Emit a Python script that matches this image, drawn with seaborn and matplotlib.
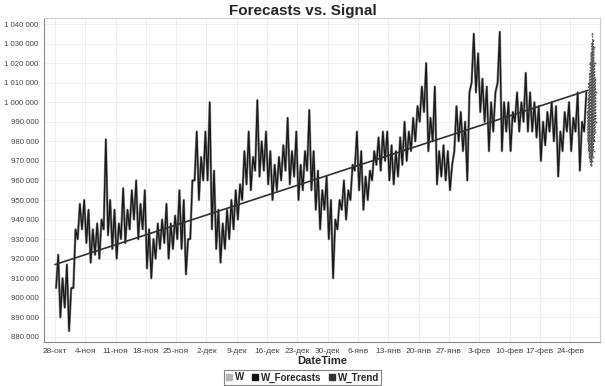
import numpy as np
import pandas as pd
import seaborn as sns
import matplotlib
matplotlib.use('Agg')
import matplotlib.pyplot as plt
from matplotlib.ticker import FuncFormatter
from matplotlib.lines import Line2D

# daily low / high of W (thousands), starting 28-окт
w_low = [905, 890, 895, 883, 905, 930, 935, 928, 918, 922,
         920, 935, 932, 925, 920, 930, 928, 935, 940, 930,
         935, 915, 910, 920, 925, 928, 920, 925, 930, 925,
         912, 930, 960, 950, 960, 960, 935, 925, 918, 925,
         930, 935, 940, 950, 958, 955, 965, 962, 965, 958,
         950, 955, 960, 965, 958, 962, 950, 955, 965, 955,
         945, 935, 945, 930, 910, 935, 945, 940, 950, 965,
         955, 945, 950, 960, 968, 965, 970, 960, 958, 962,
         968, 970, 975, 980, 990, 995, 975, 980, 958, 962,
         960, 955, 975, 980, 975, 960, 1010, 1005, 995, 990,
         975, 985, 1010, 975, 985, 975, 990, 985, 990, 985,
         985, 982, 970, 978, 985, 980, 962, 975, 985, 975,
         985, 965, 985]
w_high = [922, 910, 917, 905, 935, 948, 950, 945, 935, 938,
          940, 981, 950, 945, 938, 956, 945, 955, 960, 948,
          955, 935, 930, 938, 940, 948, 938, 942, 955, 950,
          930, 960, 985, 972, 985, 1000, 965, 945, 938, 945,
          950, 955, 958, 975, 985, 972, 1001, 980, 985, 975,
          968, 972, 978, 992, 975, 985, 968, 975, 996, 975,
          965, 955, 962, 950, 940, 950, 960, 955, 968, 985,
          975, 962, 965, 975, 982, 985, 985, 978, 975, 982,
          990, 985, 992, 998, 1008, 1020, 992, 1008, 975, 978,
          975, 968, 998, 995, 990, 1005, 1035, 1025, 1012, 1008,
          1000, 1005, 1036, 1000, 1000, 995, 1005, 1000, 1015, 1005,
          1000, 998, 990, 995, 1000, 998, 985, 995, 1000, 992,
          1005, 990, 1005]
# forecast, every 2 hours after the signal ends
w_forecast = [995, 980, 1002, 975, 1010, 972, 1015, 970, 1020, 968,
              1025, 968, 1030, 970, 1035, 972, 1032, 975, 1028, 980,
              1020, 985, 1012, 990, 1005]
trend_start, trend_end = 917, 1006

tick_labels = ['28-окт', '4-ноя', '11-ноя', '18-ноя', '25-ноя', '2-дек', '9-дек',
               '16-дек', '23-дек', '30-дек', '6-янв', '13-янв', '20-янв', '27-янв',
               '3-фев', '10-фев', '17-фев', '24-фев']

start = pd.Timestamp('2012-10-28')
rows = []
for d, (lo, hi) in enumerate(zip(w_low, w_high)):
    rows.append((start + pd.Timedelta(days=d, hours=6), lo * 1000))
    rows.append((start + pd.Timedelta(days=d, hours=18), hi * 1000))
sig = pd.DataFrame(rows, columns=['DateTime', 'W'])

t_end = start + pd.Timedelta(days=len(w_low))
fc = pd.DataFrame({'DateTime': [t_end + pd.Timedelta(hours=2 * i) for i in range(len(w_forecast))],
                   'W_Forecasts': np.array(w_forecast) * 1000})
tr = pd.DataFrame({'DateTime': [start, t_end], 'W_Trend': [trend_start * 1000, trend_end * 1000]})

sns.set_style('whitegrid')
plt.rcParams['font.family'] = ['Liberation Sans', 'DejaVu Sans']
fig = plt.figure(figsize=(6.05, 3.86), dpi=100)
ax = fig.add_axes([0.0727, 0.114, 0.919, 0.839])

# grey signal underneath, darker core on top
sns.lineplot(data=sig, x='DateTime', y='W', color='#9a9a9a', lw=1.8, ax=ax)
sns.lineplot(data=sig, x='DateTime', y='W', color='#1a1a1a', lw=1.0, ax=ax)
sns.lineplot(data=fc, x='DateTime', y='W_Forecasts', color='#555555', lw=0.8,
             linestyle=':', marker='s', markersize=1.2, markeredgewidth=0, ax=ax)
sns.lineplot(data=tr, x='DateTime', y='W_Trend', color='#303030', lw=1.2, ax=ax)

ax.set_xlim(start - pd.Timedelta(hours=61), start + pd.Timedelta(days=125.9))
ax.set_ylim(877400, 1043000)
ax.set_xticks([start + pd.Timedelta(days=7 * i) for i in range(len(tick_labels))])
ax.set_xticklabels(tick_labels)
ax.set_yticks(np.arange(880000, 1040001, 10000))
ax.yaxis.set_major_formatter(FuncFormatter(lambda v, p: f'{int(v):,}'.replace(',', ' ')))
ax.tick_params(labelsize=6.0, colors='#444444', length=2, pad=2)
ax.tick_params(axis='y', labelsize=5.6)
ax.grid(color='#ececec', lw=0.6)
for s in ax.spines.values():
    s.set_color('#cccccc')
    s.set_linewidth(0.8)
ax.spines['left'].set_color('#888888')
ax.spines['bottom'].set_color('#888888')

ax.set_ylabel('')
ax.set_xlabel('DateTime', fontsize=8, fontweight='bold', labelpad=1)
fig.suptitle('Forecasts vs. Signal', y=0.99, fontsize=11, fontweight='bold')

handles = [Line2D([], [], ls='', marker='s', markersize=4, color=c) for c in ['#b5b5b5', '#111111', '#333333']]
leg = fig.legend(handles, ['W', 'W_Forecasts', 'W_Trend'], loc='center', bbox_to_anchor=(0.5, 0.022),
                 ncol=3, frameon=True, fancybox=False, handlelength=0.6, handletextpad=0.3,
                 columnspacing=0.8, borderpad=0.25, prop={'size': 7, 'weight': 'bold'})
leg.get_frame().set_edgecolor('#666666')
leg.get_frame().set_linewidth(0.8)

fig.savefig('out.png', dpi=100)
